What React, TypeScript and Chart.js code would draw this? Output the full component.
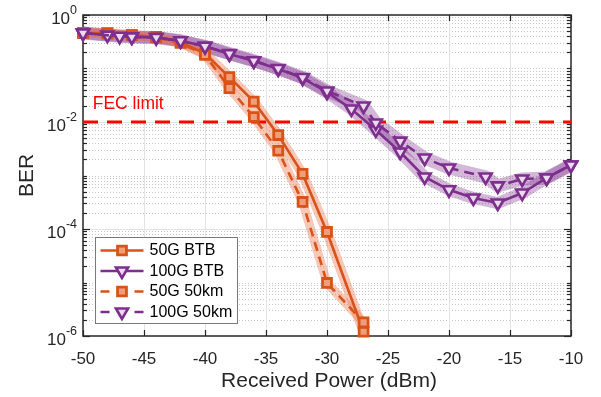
import { useEffect, useRef } from 'react';
import { Chart, registerables } from 'chart.js';
import { drawPoint } from 'chart.js/helpers';

Chart.register(...registerables);

// ---------- data ----------
const x50BTB = [-50, -48, -46, -44, -42, -40, -38, -36, -34, -32, -30, -27];
const ber50BTB = [0.46, 0.46, 0.42, 0.39, 0.31, 0.19, 0.069, 0.024, 0.0057, 0.00107, 8.8e-5, 1.2e-6];

const x50km = [-50, -48, -46, -44, -42, -40, -38, -36, -34, -32, -30, -27];
const ber50km = [0.46, 0.45, 0.42, 0.38, 0.3, 0.18, 0.043, 0.0124, 0.0029, 3.2e-4, 9.8e-6, 1.8e-6];

const x100BTB = [-50, -48, -46, -44, -42, -40, -38, -36, -34, -32, -30, -28, -26, -24, -22, -20, -18, -16, -14, -12, -10];
const ber100BTB = [0.46, 0.42, 0.39, 0.38, 0.33, 0.26, 0.187, 0.138, 0.098, 0.066, 0.036, 0.0175, 0.0071, 0.00275, 9.4e-4, 5.4e-4, 3.8e-4, 3.06e-4, 4.7e-4, 9.0e-4, 1.57e-3];

const x100km = [-50, -47, -46, -44, -42, -40, -38, -36, -34, -32, -30, -27, -26, -24, -22, -20, -17, -16, -14, -12, -10];
const ber100km = [0.46, 0.4, 0.39, 0.38, 0.33, 0.26, 0.19, 0.14, 0.1, 0.068, 0.038, 0.0199, 0.0096, 0.0044, 0.00212, 0.00138, 9.4e-4, 6.4e-4, 8.6e-4, 9.0e-4, 1.57e-3];

const xTicks = [-50, -45, -40, -35, -30, -25, -20, -15, -10];
const yLabelExps = [0, -2, -4, -6];
const fecLimit = 1e-2;
const fecX = [-50, -10];
const seriesLabels = ['50G BTB', '100G BTB', '50G 50km', '100G 50km'];
const fecText = 'FEC limit';
const xTitle = 'Received Power (dBm)';
const yTitle = 'BER';

// ---------- styles ----------
const ORANGE = '#D95319';
const PURPLE = '#7E2F8E';
const ORANGE_BAND = 'rgba(236,125,85,0.42)';
const PURPLE_BAND = 'rgba(126,47,142,0.34)';
const ORANGE_FACE = '#EE9F7A';
const PURPLE_FACE = '#EADCEE';
const FONT = '"Liberation Sans", Arial, Helvetica, sans-serif';
const TXT = '#262626';

const xy = (xs: number[], ys: number[]) => xs.map((x, i) => ({ x, y: ys[i] }));

function App() {
  const ref = useRef<HTMLCanvasElement | null>(null);

  useEffect(() => {
    document.body.style.margin = '0';
    const canvas = ref.current;
    if (!canvas) return;

    const orangeMarker = {
      pointStyle: 'rect',
      pointRadius: 6.3,
      pointBorderWidth: 2.8,
      pointBackgroundColor: ORANGE_FACE,
      pointBorderColor: ORANGE,
      pointRotation: 0,
    };
    const purpleMarker = {
      pointStyle: 'triangle',
      pointRadius: 7,
      pointBorderWidth: 2.6,
      pointBackgroundColor: PURPLE_FACE,
      pointBorderColor: PURPLE,
      pointRotation: 180,
    };

    const series: any[] = [
      { label: seriesLabels[0], data: xy(x50BTB, ber50BTB), borderColor: ORANGE, borderDash: [], band: ORANGE_BAND, bandW: 10, m: orangeMarker, legendIdx: 0, order: 3 },
      { label: seriesLabels[1], data: xy(x100BTB, ber100BTB), borderColor: PURPLE, borderDash: [], band: PURPLE_BAND, bandW: 12, m: purpleMarker, legendIdx: 1, order: 1 },
      { label: seriesLabels[2], data: xy(x50km, ber50km), borderColor: ORANGE, borderDash: [9, 6], band: ORANGE_BAND, bandW: 9, m: orangeMarker, legendIdx: 2, order: 2.5 },
      { label: seriesLabels[3], data: xy(x100km, ber100km), borderColor: PURPLE, borderDash: [10, 6], band: PURPLE_BAND, bandW: 13, m: purpleMarker, legendIdx: 3, order: 0.5 },
    ];

    const datasets: any[] = [];
    series.forEach((s) => {
      datasets.push({
        label: s.label,
        data: s.data,
        borderColor: s.borderColor,
        borderWidth: 2.6,
        borderDash: s.borderDash,
        tension: 0,
        clip: false,
        order: s.order,
        legendIdx: s.legendIdx,
        ...s.m,
      });
    });
    series.forEach((s) => {
      datasets.push({
        label: '',
        data: s.data,
        borderColor: s.band,
        borderWidth: s.bandW,
        borderJoinStyle: 'round',
        borderCapStyle: 'butt',
        pointRadius: 0,
        tension: 0,
        order: 6,
      });
    });
    datasets.push({
      label: 'FEC',
      data: xy(fecX, [fecLimit, fecLimit]),
      borderColor: '#FF0000',
      borderWidth: 3,
      borderDash: [15, 9],
      pointRadius: 0,
      order: 4,
    });

    const decor = {
      id: 'decor',
      beforeDatasetsDraw(chart: any) {
        const { ctx, chartArea: a, scales } = chart;
        const xs = scales.x;
        const ys = scales.y;
        ctx.save();
        ctx.lineWidth = 1;
        ctx.strokeStyle = 'rgba(0,0,0,0.22)';
        ctx.setLineDash([1, 2]);
        for (let e = -6; e < 0; e++) {
          for (let m = 1; m <= 9; m++) {
            if (m === 1 && e % 2 === 0) continue;
            const v = m * Math.pow(10, e);
            const py = Math.round(ys.getPixelForValue(v)) + 0.5;
            ctx.beginPath();
            ctx.moveTo(a.left, py);
            ctx.lineTo(a.right, py);
            ctx.stroke();
          }
        }
        ctx.setLineDash([]);
        ctx.strokeStyle = '#E3E3E3';
        xTicks.slice(1, -1).forEach((t) => {
          const px = Math.round(xs.getPixelForValue(t)) + 0.5;
          ctx.beginPath();
          ctx.moveTo(px, a.top);
          ctx.lineTo(px, a.bottom);
          ctx.stroke();
        });
        yLabelExps.slice(1, -1).forEach((e) => {
          const py = Math.round(ys.getPixelForValue(Math.pow(10, e))) + 0.5;
          ctx.beginPath();
          ctx.moveTo(a.left, py);
          ctx.lineTo(a.right, py);
          ctx.stroke();
        });
        ctx.strokeStyle = TXT;
        ctx.lineWidth = 1.5;
        ctx.strokeRect(a.left, a.top, a.right - a.left, a.bottom - a.top);
        ctx.lineWidth = 1.2;
        const tick = (x1: number, y1: number, x2: number, y2: number) => {
          ctx.beginPath();
          ctx.moveTo(x1, y1);
          ctx.lineTo(x2, y2);
          ctx.stroke();
        };
        for (let e = -6; e <= 0; e++) {
          for (let m = 1; m <= 9; m++) {
            if (e === 0 && m > 1) break;
            const v = m * Math.pow(10, e);
            const py = Math.round(ys.getPixelForValue(v)) + 0.5;
            const major = m === 1 && e % 2 === 0;
            const len = major ? 7 : 4;
            tick(a.left, py, a.left + len, py);
            tick(a.right, py, a.right - len, py);
          }
        }
        xTicks.forEach((t) => {
          const px = Math.round(xs.getPixelForValue(t)) + 0.5;
          tick(px, a.bottom, px, a.bottom - 6);
          tick(px, a.top, px, a.top + 6);
        });
        ctx.restore();
      },
      afterDraw(chart: any) {
        const { ctx, chartArea: a, scales } = chart;
        const xs = scales.x;
        const ys = scales.y;
        ctx.save();
        ctx.fillStyle = TXT;
        ctx.font = `17px ${FONT}`;
        ctx.textAlign = 'center';
        ctx.textBaseline = 'middle';
        xTicks.forEach((t) => {
          ctx.fillText(String(t), xs.getPixelForValue(t), a.bottom + 23);
        });
        ctx.font = `21px ${FONT}`;
        ctx.fillText(xTitle, (a.left + a.right) / 2 + 2, a.bottom + 45);
        yLabelExps.forEach((e) => {
          const py = ys.getPixelForValue(Math.pow(10, e));
          const exp = String(e);
          ctx.font = `12.5px ${FONT}`;
          const ew = ctx.measureText(exp).width;
          const right = a.left - 6;
          ctx.textAlign = 'left';
          ctx.fillText(exp, right - ew, py - 4);
          ctx.font = `17px ${FONT}`;
          ctx.textAlign = 'right';
          ctx.fillText('10', right - ew, py + 4);
        });
        ctx.save();
        ctx.translate(27, (a.top + a.bottom) / 2);
        ctx.rotate(-Math.PI / 2);
        ctx.font = `21px ${FONT}`;
        ctx.textAlign = 'center';
        ctx.textBaseline = 'middle';
        ctx.fillText(yTitle, 0, 0);
        ctx.restore();
        ctx.fillStyle = '#FF0000';
        ctx.font = `17.5px ${FONT}`;
        ctx.textAlign = 'left';
        ctx.textBaseline = 'middle';
        ctx.fillText(fecText, xs.getPixelForValue(-49.2), ys.getPixelForValue(fecLimit) - 18);

        const lx = a.left + 12.5;
        const ly = 237.5;
        const lw = 142;
        const lh = 86;
        ctx.fillStyle = '#FFFFFF';
        ctx.fillRect(lx, ly, lw, lh);
        ctx.strokeStyle = '#7A7A7A';
        ctx.lineWidth = 1;
        ctx.strokeRect(lx, ly, lw, lh);
        const entries = chart.data.datasets.filter((d: any) => d.legendIdx !== undefined)
          .sort((p: any, q: any) => p.legendIdx - q.legendIdx);
        entries.forEach((d: any, i: number) => {
          const ry = ly + 13 + i * 20.5;
          const x0 = lx + 5;
          const x1 = lx + 48;
          const mx = (x0 + x1) / 2;
          ctx.strokeStyle = d.borderColor;
          ctx.lineWidth = 2.6;
          ctx.beginPath();
          if (d.borderDash && d.borderDash.length) {
            ctx.moveTo(x0, ry); ctx.lineTo(x0 + 9, ry);
            ctx.moveTo(x1 - 9, ry); ctx.lineTo(x1, ry);
          } else {
            ctx.moveTo(x0, ry); ctx.lineTo(x1, ry);
          }
          ctx.stroke();
          ctx.fillStyle = d.pointBackgroundColor;
          ctx.strokeStyle = d.pointBorderColor;
          ctx.lineWidth = d.pointBorderWidth;
          drawPoint(ctx, { pointStyle: d.pointStyle, radius: d.pointRadius, rotation: d.pointRotation, borderWidth: d.pointBorderWidth } as any, mx, ry);
          ctx.fillStyle = '#000000';
          ctx.font = `16px ${FONT}`;
          ctx.textAlign = 'left';
          ctx.textBaseline = 'middle';
          ctx.fillText(d.label, lx + 54, ry + 0.5);
        });
        ctx.restore();
      },
    };

    const chart = new Chart(canvas, {
      type: 'line',
      data: { datasets },
      options: {
        responsive: false,
        animation: false,
        maintainAspectRatio: false,
        layout: { padding: { top: 15, right: 30, left: 0, bottom: 0 }, autoPadding: false },
        plugins: { legend: { display: false }, tooltip: { enabled: false } },
        scales: {
          x: {
            type: 'linear',
            min: -50,
            max: -10,
            grid: { display: false },
            border: { display: false },
            ticks: { display: false },
            afterFit: (s: any) => { s.height = 61; },
          },
          y: {
            type: 'logarithmic',
            min: 1e-6,
            max: 1,
            grid: { display: false },
            border: { display: false },
            ticks: { display: false },
            afterFit: (s: any) => { s.width = 83; },
          },
        },
      } as any,
      plugins: [decor],
    });
    return () => chart.destroy();
  }, []);

  return (
    <div style={{ width: 601, height: 397, background: '#fff' }}>
      <canvas ref={ref} width={601} height={397} style={{ display: 'block', width: 601, height: 397 }} />
    </div>
  );
}

export default App;
